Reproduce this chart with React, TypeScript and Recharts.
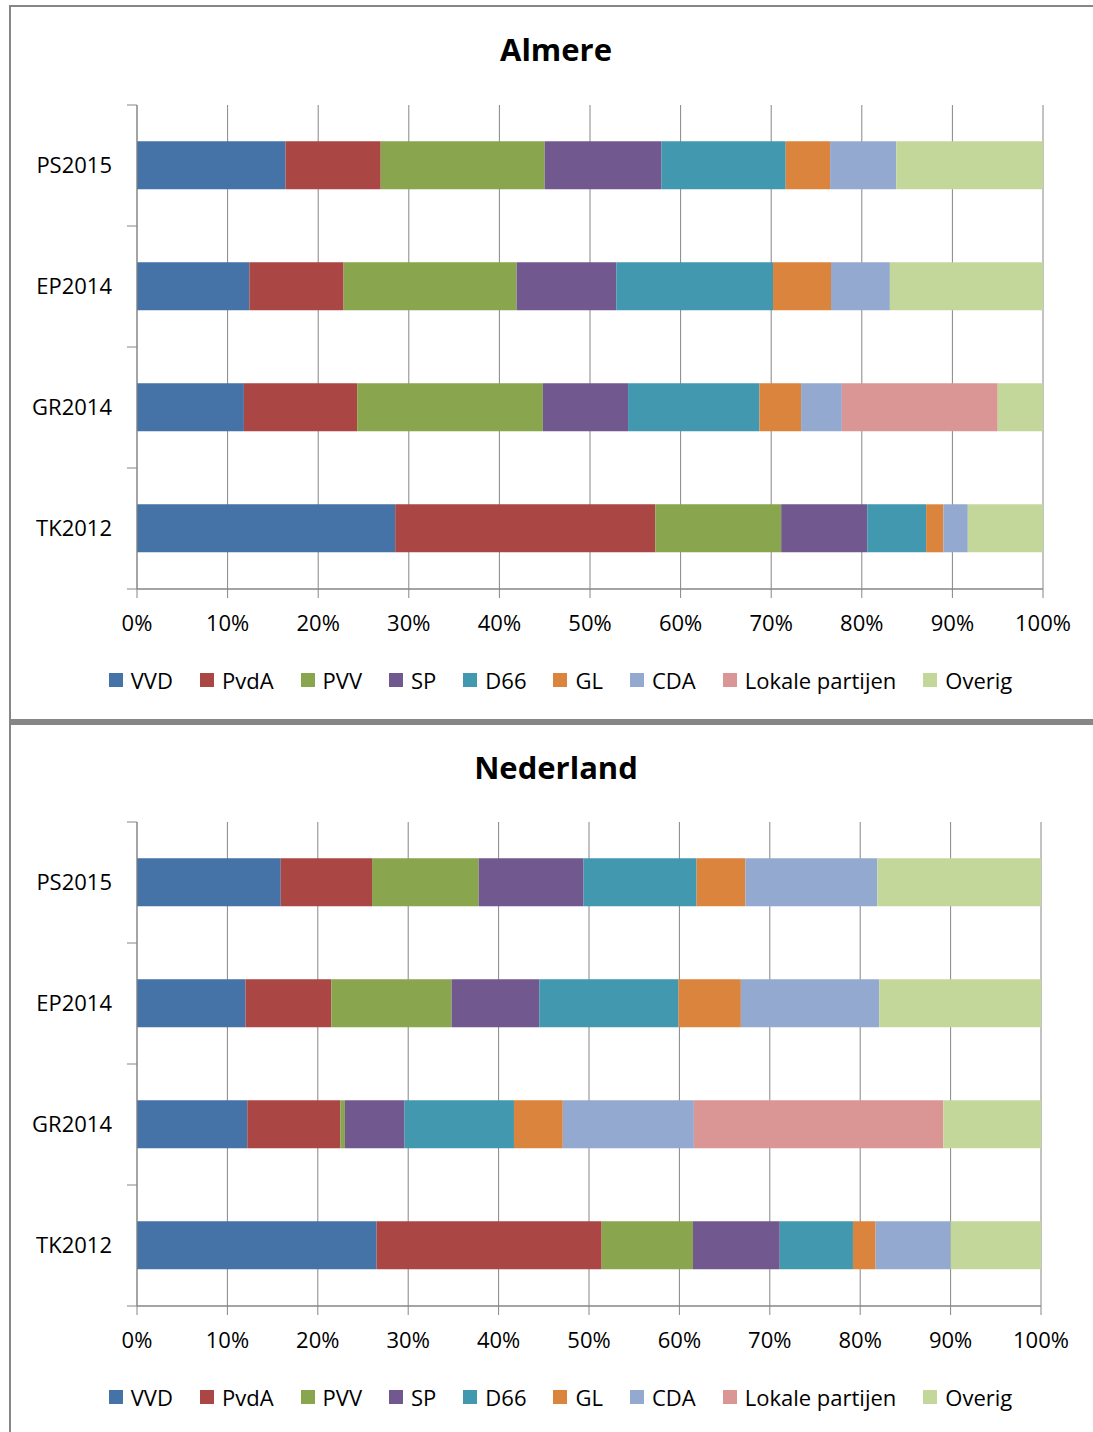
import React from 'react';
import { BarChart, Bar, XAxis, YAxis, CartesianGrid } from 'recharts';

const CATEGORIES = ['PS2015', 'EP2014', 'GR2014', 'TK2012'];
const PARTIES = ['VVD', 'PvdA', 'PVV', 'SP', 'D66', 'GL', 'CDA', 'Lokale partijen', 'Overig'];
const COLORS = ['#4572A7', '#AA4643', '#89A54E', '#71588F', '#4198AF', '#DB843D', '#93A9CF', '#DA9694', '#C4D79B'];
const X_TICKS = [0, 0.1, 0.2, 0.3, 0.4, 0.5, 0.6, 0.7, 0.8, 0.9, 1];

// shares per party (order of PARTIES), in percent
const ALMERE_PS2015 = [16.4, 10.5, 18.1, 12.9, 13.7, 4.9, 7.3, 0, 16.2];
const ALMERE_EP2014 = [12.4, 10.4, 19.1, 11.0, 17.3, 6.4, 6.5, 0, 16.9];
const ALMERE_GR2014 = [11.8, 12.5, 20.5, 9.4, 14.5, 4.6, 4.5, 17.2, 5.0];
const ALMERE_TK2012 = [28.5, 28.7, 13.9, 9.5, 6.5, 1.9, 2.7, 0, 8.3];

const NL_PS2015 = [15.9, 10.1, 11.8, 11.6, 12.5, 5.4, 14.6, 0, 18.1];
const NL_EP2014 = [12.0, 9.5, 13.3, 9.7, 15.4, 6.9, 15.3, 0, 17.9];
const NL_GR2014 = [12.2, 10.3, 0.5, 6.6, 12.1, 5.4, 14.5, 27.6, 10.8];
const NL_TK2012 = [26.5, 24.9, 10.1, 9.6, 8.1, 2.5, 8.3, 0, 10.0];

const buildRows = (series: number[][]) =>
  CATEGORIES.map((cat, i) => {
    const row: Record<string, any> = { name: cat };
    PARTIES.forEach((p, j) => {
      row[p] = series[i][j];
    });
    return row;
  });

const ALMERE_ROWS = buildRows([ALMERE_PS2015, ALMERE_EP2014, ALMERE_GR2014, ALMERE_TK2012]);
const NL_ROWS = buildRows([NL_PS2015, NL_EP2014, NL_GR2014, NL_TK2012]);

const FONT = '"Open Sans", "DejaVu Sans", sans-serif';
const AXIS = '#868686';
const Y_MARGIN = 25;

const CatTick = (props: any) => {
  const { x, y, payload, index, visibleTicksCount, height } = props;
  const count = visibleTicksCount || CATEGORIES.length;
  const band = (height || 484) / count;
  const ax = x + Y_MARGIN;
  return (
    <g>
      <line x1={ax - 10} x2={ax} y1={y - band / 2} y2={y - band / 2} stroke={AXIS} strokeWidth={1} />
      {index === count - 1 && (
        <line x1={ax - 10} x2={ax} y1={y + band / 2} y2={y + band / 2} stroke={AXIS} strokeWidth={1} />
      )}
      <text x={x} y={y} dy="0.355em" textAnchor="end" fontFamily={FONT} fontSize={22} fill="#000">
        {payload.value}
      </text>
    </g>
  );
};

const LegendRow = ({ top }: { top: number }) => (
  <div
    style={{
      position: 'absolute',
      top,
      left: 0,
      width: 1121,
      display: 'flex',
      justifyContent: 'center',
      fontFamily: FONT,
      fontSize: 22,
      lineHeight: '30px',
      color: '#000',
    }}
  >
    {PARTIES.map((p, i) => (
      <div key={p} style={{ display: 'flex', alignItems: 'center', marginRight: i < PARTIES.length - 1 ? 27 : 0 }}>
        <div style={{ width: 14, height: 14, background: COLORS[i], marginRight: 8 }} />
        <span>{p}</span>
      </div>
    ))}
  </div>
);

const Title = ({ text, top }: { text: string; top: number }) => (
  <div
    style={{
      position: 'absolute',
      top,
      left: 0,
      width: 1112,
      textAlign: 'center',
      fontFamily: FONT,
      fontWeight: 700,
      fontSize: 31,
      lineHeight: '31px',
      color: '#000',
    }}
  >
    {text}
  </div>
);

const StackChart = ({
  rows,
  height,
  margin,
}: {
  rows: Record<string, any>[];
  height: number;
  margin: { top: number; right: number; bottom: number; left: number };
}) => (
  <BarChart
    width={1093}
    height={height}
    data={rows}
    layout="vertical"
    stackOffset="expand"
    barCategoryGap="30%"
    margin={margin}
  >
    <CartesianGrid horizontal={false} vertical={true} stroke={AXIS} strokeWidth={1} />
    <XAxis
      type="number"
      domain={[0, 1]}
      ticks={X_TICKS}
      interval={0}
      height={40}
      tickFormatter={(v: number) => `${Math.round(v * 100)}%`}
      axisLine={{ stroke: AXIS, strokeWidth: 1.5 }}
      tickLine={{ stroke: AXIS }}
      tickSize={9}
      tickMargin={17}
      tick={{ fontFamily: FONT, fontSize: 22, fill: '#000' }}
    />
    <YAxis
      type="category"
      dataKey="name"
      width={100}
      axisLine={{ stroke: AXIS, strokeWidth: 1 }}
      tickLine={false}
      tickSize={0}
      tickMargin={Y_MARGIN}
      interval={0}
      tick={<CatTick />}
    />
    {PARTIES.map((p, i) => (
      <Bar key={p} dataKey={p} stackId="a" fill={COLORS[i]} isAnimationActive={false} />
    ))}
  </BarChart>
);

export default function App() {
  return (
    <div style={{ position: 'absolute', left: 0, top: 0, width: 1093, height: 1432, background: '#fff', overflow: 'hidden' }}>
      {/* panel frames */}
      <div
        style={{
          position: 'absolute',
          left: 9,
          top: 5,
          width: 1082,
          height: 712,
          borderTop: `2px solid ${AXIS}`,
          borderLeft: `2px solid ${AXIS}`,
          borderBottom: `3px solid ${AXIS}`,
        }}
      />
      <div
        style={{
          position: 'absolute',
          left: 9,
          top: 722,
          width: 1082,
          height: 708,
          borderTop: `3px solid ${AXIS}`,
          borderLeft: `2px solid ${AXIS}`,
        }}
      />

      <Title text="Almere" top={34} />
      <div style={{ position: 'absolute', left: 0, top: 0 }}>
        <StackChart rows={ALMERE_ROWS} height={720} margin={{ top: 105, right: 50, bottom: 91, left: 37 }} />
      </div>
      <LegendRow top={665} />

      <Title text="Nederland" top={752} />
      <div style={{ position: 'absolute', left: 0, top: 722 }}>
        <StackChart rows={NL_ROWS} height={710} margin={{ top: 100, right: 52, bottom: 86, left: 37 }} />
      </div>
      <LegendRow top={1382} />
    </div>
  );
}
